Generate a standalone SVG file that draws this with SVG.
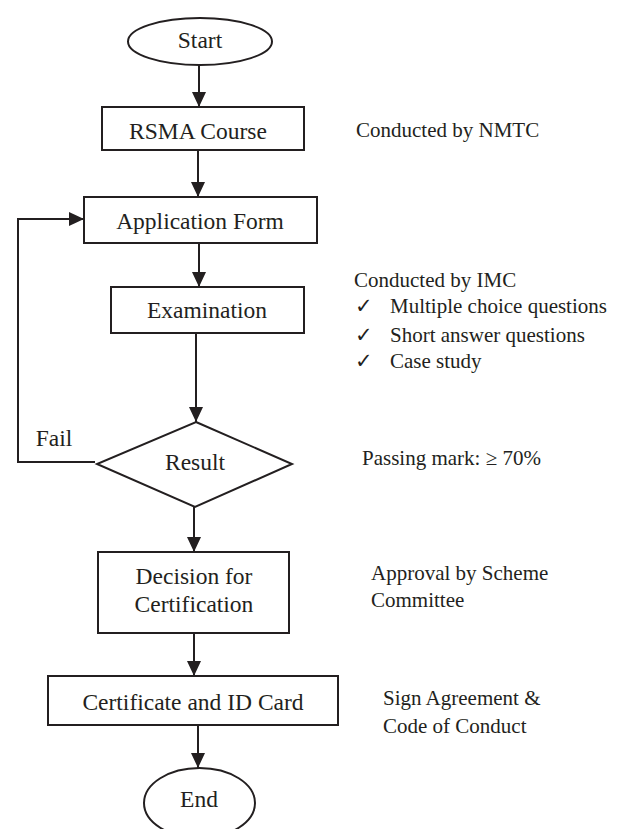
<svg xmlns="http://www.w3.org/2000/svg" width="622" height="829" viewBox="0 0 622 829" font-family="Liberation Serif, Tinos, Times New Roman, serif">
<style>
.s{fill:#fff;stroke:#231f20;stroke-width:2}
.t{font-size:23.5px;fill:#231f20;text-anchor:middle}
.l{font-size:21px;fill:#231f20}
.c{fill:none;stroke:#231f20;stroke-width:2}
</style>
<defs>
<marker id="a" markerUnits="userSpaceOnUse" markerWidth="15" markerHeight="14" refX="15" refY="7" orient="auto">
<path d="M0,0 L15,7 L0,14 z" fill="#231f20"/>
</marker>
</defs>
<rect width="622" height="829" fill="#fff"/>
<g id="connectors">
<line class="c" x1="199" y1="65" x2="199" y2="107" marker-end="url(#a)"/>
<line class="c" x1="198" y1="150" x2="198" y2="197" marker-end="url(#a)"/>
<line class="c" x1="199" y1="243" x2="199" y2="287" marker-end="url(#a)"/>
<line class="c" x1="196" y1="333" x2="196" y2="422" marker-end="url(#a)"/>
<polyline class="c" points="95,462 18,462 18,219 84,219" marker-end="url(#a)"/>
<line class="c" x1="194" y1="507" x2="194" y2="552" marker-end="url(#a)"/>
<line class="c" x1="194" y1="633" x2="194" y2="676" marker-end="url(#a)"/>
<line class="c" x1="198" y1="725" x2="198" y2="768" marker-end="url(#a)"/>
<text class="t" x="54" y="446">Fail</text>
</g>
<g id="start">
<ellipse class="s" cx="200" cy="41.5" rx="72" ry="23.5"/>
<text class="t" x="200" y="48">Start</text>
</g>
<g id="rsma">
<rect class="s" x="102" y="107" width="202" height="43"/>
<text class="t" x="198" y="139">RSMA Course</text>
</g>
<g id="application">
<rect class="s" x="84" y="197" width="233" height="46"/>
<text class="t" x="200" y="229">Application Form</text>
</g>
<g id="examination">
<rect class="s" x="111" y="287" width="193" height="46"/>
<text class="t" x="207" y="318">Examination</text>
</g>
<g id="result">
<polygon class="s" points="196,422 292,464 195,507 97,464"/>
<text class="t" x="195" y="470">Result</text>
</g>
<g id="decision">
<rect class="s" x="98" y="552" width="191" height="81"/>
<text class="t" x="194" y="584">Decision for</text>
<text class="t" x="194" y="612">Certification</text>
</g>
<g id="certificate">
<rect class="s" x="48" y="676" width="290" height="49"/>
<text class="t" x="193" y="710">Certificate and ID Card</text>
</g>
<g id="end">
<ellipse class="s" cx="199.5" cy="803" rx="55.5" ry="35"/>
<text class="t" x="199" y="807">End</text>
</g>
<g id="notes">
<text class="l" x="356" y="137">Conducted by NMTC</text>
<text class="l" x="354" y="287">Conducted by IMC</text>
<text class="l" x="355" y="313">✓</text>
<text class="l" x="390" y="313">Multiple choice questions</text>
<text class="l" x="355" y="342">✓</text>
<text class="l" x="390" y="342">Short answer questions</text>
<text class="l" x="355" y="368">✓</text>
<text class="l" x="390" y="368">Case study</text>
<text class="l" x="362" y="465">Passing mark: ≥ 70%</text>
<text class="l" x="371" y="580">Approval by Scheme</text>
<text class="l" x="371" y="607">Committee</text>
<text class="l" x="383" y="705">Sign Agreement &amp;</text>
<text class="l" x="383" y="733">Code of Conduct</text>
</g>
</svg>
